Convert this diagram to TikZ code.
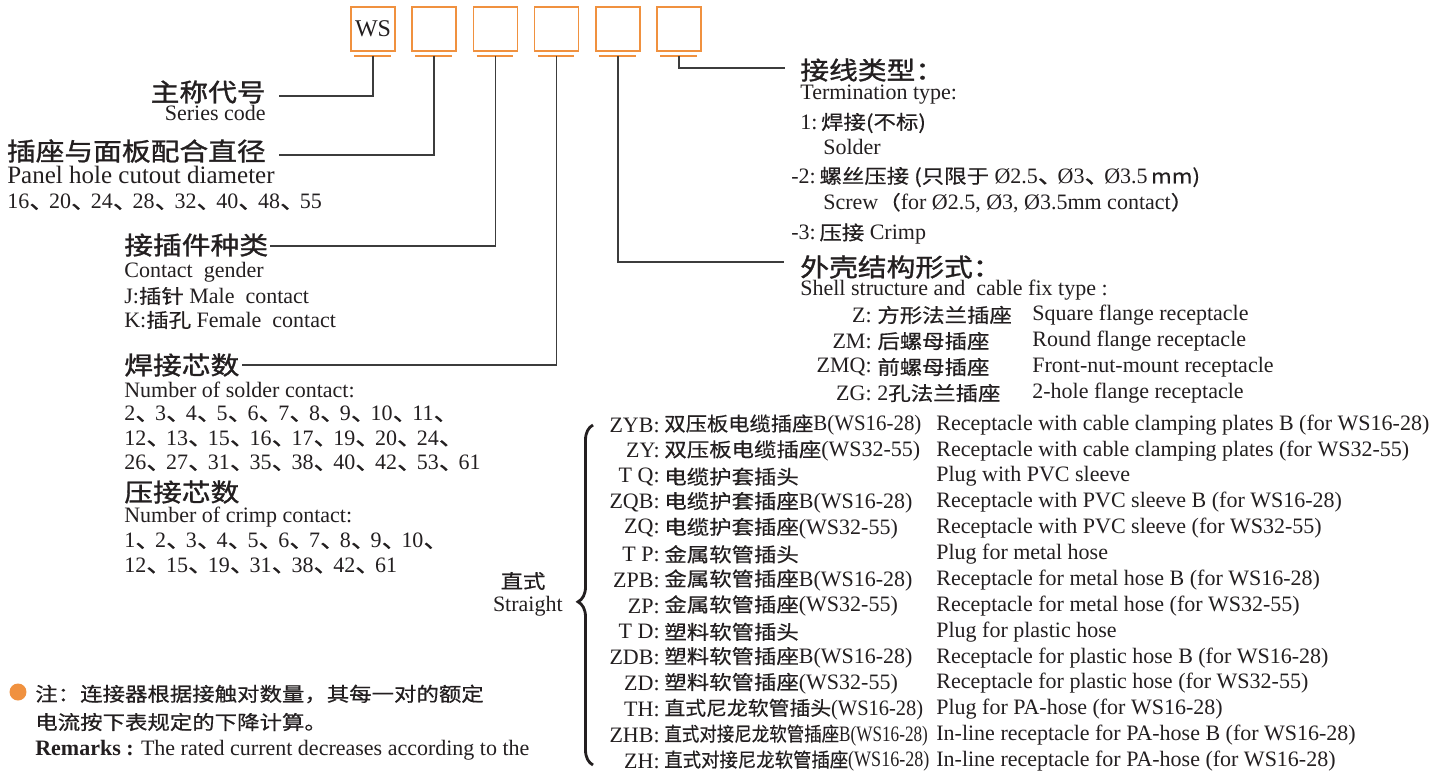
\documentclass[tikz,border=0pt]{standalone}
\usepackage{fontspec}
\setmainfont{Liberation Serif}
\newfontfamily\cjk{Noto Sans CJK SC}[FakeStretch=1.15, FakeBold=0.5]
\newfontfamily\cjkh{Noto Sans CJK SC}[FakeStretch=1.15, FakeBold=1.2]
\usetikzlibrary{positioning,calc,decorations.pathreplacing}
\definecolor{corange}{HTML}{F0913F}
\definecolor{cink}{HTML}{231F20}
\definecolor{cline}{HTML}{3C3C3C}
\newcommand\dn{{\cjk 、}\kern-.25em}
\newcommand\ser[1]{{\rmfamily\fontsize{.44cm}{.5cm}\selectfont #1}}
\newcommand\cjs[1]{{\cjk\fontsize{.39cm}{.46cm}\selectfont #1}}

\tikzset{
  hd/.style={inner sep=0pt, font=\cjkh\fontsize{.5cm}{.6cm}\selectfont},
  tx/.style={inner sep=0pt, font=\fontsize{.44cm}{.5cm}\selectfont},
  txl/.style={inner sep=0pt, font=\fontsize{.5cm}{.56cm}\selectfont},
  cj/.style={inner sep=0pt, font=\cjk\fontsize{.39cm}{.46cm}\selectfont},
  box/.style={draw=corange, line width=1pt, minimum size=.88cm, inner sep=0pt},
  uline/.style={corange, line width=1pt},
  lead/.style={cline, line width=.85pt},
}

\begin{document}
\begin{tikzpicture}[x=.02cm, y=-.02cm, every node/.style={text=cink}]
  \fill[white] (0,0) rectangle (1446,774);
  \useasboundingbox (0,0) rectangle (1446,774);
  \foreach \i in {1,...,6} {
    \node[box] (b\i) at ({373+61.2*(\i-1)}, 29) {};
    \draw[uline] ($(b\i.south west)+(4,4)$) -- ($(b\i.south east)+(-5,4)$);
    \coordinate (u\i) at ($(b\i.south)+(0,4)$);
  }
  \node[inner sep=0pt, font=\fontsize{.48cm}{.5cm}\selectfont] (ws) at (b1) {WS};

  \node[hd, anchor=east] (sercode) at (266,92) {主称代号};
  \node[tx, anchor=east] (serEn) at (266,113) {Series code};
  \node[hd, anchor=east] (dia) at (266,151) {插座与面板配合直径};
  \node[txl, anchor=west] (diaEn) at (7,175) {Panel hole cutout diameter};
  \node[tx, anchor=west] (diaNum) at (7,202) {16\dn 20\dn 24\dn 28\dn 32\dn 40\dn 48\dn 55};

  \node[hd, anchor=west] (gender) at (124,245) {接插件种类};
  \node[tx, anchor=west] (genEn) at (124,272) {Contact\ \ gender};
  \node[tx, anchor=west] (male) at (124,296) {J:\cjs{插针}\ Male\ \ contact};
  \node[tx, anchor=west] (female) at (124,320) {K:\cjs{插孔}\ Female\ \ contact};

  \node[hd, anchor=west] (solder) at (124,365) {焊接芯数};
  \node[tx, anchor=west] (solEn) at (124,390) {Number of solder contact:};
  \foreach \t [count=\k] in {{2\dn 3\dn 4\dn 5\dn 6\dn 7\dn 8\dn 9\dn 10\dn 11\dn},
      {12\dn 13\dn 15\dn 16\dn 17\dn 19\dn 20\dn 24\dn},
      {26\dn 27\dn 31\dn 35\dn 38\dn 40\dn 42\dn 53\dn 61}}
    \node[tx, anchor=west] (sn\k) at (124, {389.5+24.5*\k}) {\t};
  \node[hd, anchor=west] (crimp) at (124,492) {压接芯数};
  \node[tx, anchor=west] (crEn) at (124,517) {Number of crimp contact:};
  \foreach \t [count=\k] in {{1\dn 2\dn 3\dn 4\dn 5\dn 6\dn 7\dn 8\dn 9\dn 10\dn},
      {12\dn 15\dn 19\dn 31\dn 38\dn 42\dn 61}}
    \node[tx, anchor=west] (cn\k) at (124, {516.5+24.5*\k}) {\t};

  \node[hd, anchor=west] (term) at (800,70) {接线类型：};
  \node[tx, anchor=west] (termEn) at (800,95) {Termination type:};
  \node[tx, anchor=west] (t1) at (800,123) {1:\,\cjs{焊接(不标)}};
  \node[tx, anchor=west] (t1En) at (823,147) {Solder};
  \node[tx, anchor=west] (t2) at (791,177) {-2:\,\cjs{螺丝压接 (只限于} Ø2.5\dn Ø3\dn Ø3.5\cjs{\,mm)}};
  \node[tx, anchor=west] (t2En) at (823,203) {Screw\cjs{（}for Ø2.5, Ø3, Ø3.5mm contact\cjs{）}};
  \node[tx, anchor=west] (t3) at (791,234) {-3:\,\cjs{压接}\ Crimp};
  \node[hd, anchor=west] (shell) at (800,267) {外壳结构形式：};
  \node[tx, anchor=west] (shellEn) at (800,290) {Shell structure and\ \ cable fix type :};

  \foreach \c/\z/\e [count=\k] in {Z:/方形法兰插座/Square flange receptacle,
      ZM:/后螺母插座/Round flange receptacle,
      ZMQ:/前螺母插座/Front-nut-mount receptacle,
      ZG:/\ser{2}孔法兰插座/2-hole flange receptacle} {
    \node[tx, anchor=east] (fc\k) at (872, {289+26*\k}) {\c};
    \node[cj, anchor=west] (fz\k) at (877, {289+26*\k}) {\z};
    \node[tx, anchor=west] (fe\k) at (1032, {289+26*\k}) {\e};
  }

  \foreach \c/\z/\e [count=\k] in {ZYB:/\scalebox{.95}[1]{双压板电缆插座\ser{B(WS16-28)}}/Receptacle with cable clamping plates B (for WS16-28),
      ZY:/双压板电缆插座\ser{(WS32-55)}/Receptacle with cable clamping plates (for WS32-55),
      T Q:/电缆护套插头/Plug with PVC sleeve,
      ZQB:/电缆护套插座\ser{B(WS16-28)}/Receptacle with PVC sleeve B (for WS16-28),
      ZQ:/电缆护套插座\ser{(WS32-55)}/Receptacle with PVC sleeve (for WS32-55),
      T P:/金属软管插头/Plug for metal hose,
      ZPB:/金属软管插座\ser{B(WS16-28)}/Receptacle for metal hose B (for WS16-28),
      ZP:/金属软管插座\ser{(WS32-55)}/Receptacle for metal hose (for WS32-55),
      T D:/塑料软管插头/Plug for plastic hose,
      ZDB:/塑料软管插座\ser{B(WS16-28)}/Receptacle for plastic hose B (for WS16-28),
      ZD:/塑料软管插座\ser{(WS32-55)}/Receptacle for plastic hose (for WS32-55),
      TH:/\scalebox{.93}[1]{直式尼龙软管插头\ser{(WS16-28)}}/Plug for PA-hose (for WS16-28),
      ZHB:/\scalebox{.78}[1]{直式对接尼龙软管插座\ser{B(WS16-28)}}/In-line receptacle for PA-hose B (for WS16-28),
      ZH:/\scalebox{.82}[1]{直式对接尼龙软管插座\ser{(WS16-28)}}/In-line receptacle for PA-hose (for WS16-28)} {
    \node[tx, anchor=east] (sc\k) at (660, {399.15+25.85*\k}) {\c};
    \node[cj, anchor=west] (sz\k) at (664, {399.15+25.85*\k}) {\z};
    \node[tx, anchor=west] (se\k) at (936, {399.15+25.85*\k}) {\e};
  }

  \draw[cink, line width=1.6pt, decorate, decoration={brace, amplitude=.3cm, aspect=.48}]
    (593,765) -- (593,425);
  \node[cj, anchor=center] (straight) at (523,581) {直式};
  \node[tx, anchor=east] (straightEn) at (563,606) {Straight};

  \draw[lead] (u1) |- ($(sercode.east)+(13,4)$);
  \draw[lead] (u2) |- ($(dia.east)+(13,4)$);
  \draw[lead] (u3) |- ($(gender.east)+(2,1)$);
  \draw[lead] (u4) |- ($(solder.east)+(2,0)$);
  \draw[lead] (u5) |- ($(shell.west)+(-16,-5)$);
  \draw[lead] (u6) |- ($(term.west)+(-15,-2)$);

  \node[circle, fill=corange, minimum size=.34cm, inner sep=0pt] (dot) at (18,692) {};
  \node[cj, anchor=west] (note1) at (35,694) {注：连接器根据接触对数量，其每一对的额定};
  \node[cj, anchor=west] (note2) at (35,722) {电流按下表规定的下降计算。};
  \node[tx, anchor=west] (note3) at (35,750) {\textbf{Remarks :} The rated current decreases according to the};
\end{tikzpicture}
\end{document}
